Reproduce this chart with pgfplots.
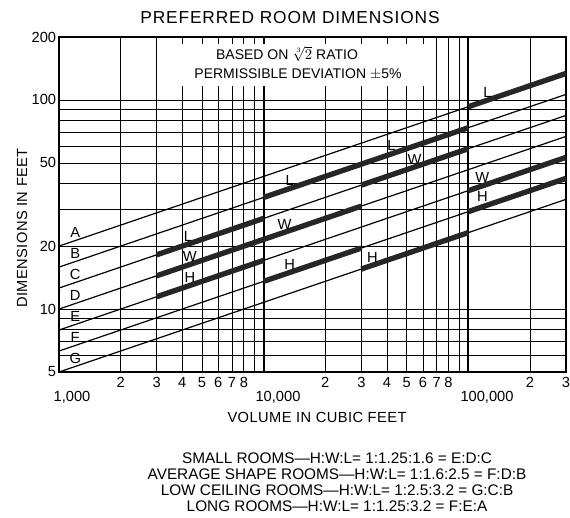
\documentclass[border=0pt]{standalone}
\usepackage{fontspec}
\setmainfont{Liberation Sans}
\usepackage{pgfplots}
\pgfplotsset{compat=1.18}
\newcommand\fs[1]{\fontsize{#1}{#1}\selectfont}
\begin{document}
\begin{tikzpicture}
\path[use as bounding box] (-44.25pt,-108.75pt) rectangle (383.25pt,279pt);
\begin{axis}[
  xmode=log, ymode=log,
  scale only axis, width=380.25pt, height=251.25pt,
  xmin=1000, xmax=300000, ymin=5, ymax=200,
  xtick={1000,2000,3000,4000,5000,6000,7000,8000,9000,10000,20000,30000,40000,50000,60000,70000,80000,90000,100000,200000,300000},
  xticklabels={{},2,3,4,5,6,7,8,{},{},2,3,4,5,6,7,8,{},{},2,3},
  ytick={5,6,7,8,9,10,20,30,40,50,60,70,80,90,100,200},
  yticklabels={5,{},{},{},{},10,20,{},{},50,{},{},{},{},100,200},
  grid=major, major grid style={black, line width=0.55pt},
  major tick length=0pt, minor tick length=0pt,
  axis line style={line width=1pt},
  ticklabel style={font=\fs{11}},
  xticklabel style={inner sep=0pt, yshift=-4pt},
  yticklabel style={inner sep=0pt, xshift=-2pt},
  extra x ticks={10000,100000}, extra x tick labels={},
  extra x tick style={grid=major, major grid style={black, line width=1.4pt}},
]
% base lines A-G
\addplot[black, line width=0.9pt] coordinates {(1000,20) (300000,133.9)};
\addplot[black, line width=0.9pt] coordinates {(1000,15.87) (300000,106.3)};
\addplot[black, line width=0.9pt] coordinates {(1000,12.6) (300000,84.34)};
\addplot[black, line width=0.9pt] coordinates {(1000,10) (300000,66.94)};
\addplot[black, line width=0.9pt] coordinates {(1000,7.937) (300000,53.13)};
\addplot[black, line width=0.9pt] coordinates {(1000,6.3) (300000,42.17)};
\addplot[black, line width=0.9pt] coordinates {(1000,5) (300000,33.47)};
% small rooms E:D:C
\addplot[black!85, line width=4pt] coordinates {(3000,18.17) (10000,27.14)};
\addplot[black!85, line width=4pt] coordinates {(3000,14.42) (10000,21.54)};
\addplot[black!85, line width=4pt] coordinates {(3000,11.45) (10000,17.10)};
% average F:D:B
\addplot[black!85, line width=4pt] coordinates {(10000,34.19) (30000,49.31)};
\addplot[black!85, line width=4pt] coordinates {(10000,21.54) (30000,31.07)};
\addplot[black!85, line width=4pt] coordinates {(10000,13.57) (30000,19.57)};
% low ceiling G:C:B
\addplot[black!85, line width=4pt] coordinates {(30000,49.31) (100000,73.67)};
\addplot[black!85, line width=4pt] coordinates {(30000,39.15) (100000,58.49)};
\addplot[black!85, line width=4pt] coordinates {(30000,15.54) (100000,23.21)};
% long F:E:A
\addplot[black!85, line width=4pt] coordinates {(100000,92.83) (300000,133.9)};
\addplot[black!85, line width=4pt] coordinates {(100000,36.84) (300000,53.13)};
\addplot[black!85, line width=4pt] coordinates {(100000,29.24) (300000,42.17)};
% line letters
\begin{scope}[every node/.style={font=\fs{11}, yshift=6pt, inner sep=0pt}]
\node at (axis cs:1200,21.25) {A};
\node at (axis cs:1200,16.87) {B};
\node at (axis cs:1200,13.39) {C};
\node at (axis cs:1200,10.63) {D};
\node at (axis cs:1200,8.43) {E};
\node at (axis cs:1200,6.70) {F};
\node at (axis cs:1200,5.31) {G};
% room labels
\node at (axis cs:4260,20.43) {L};
\node at (axis cs:4360,16.34) {W};
\node at (axis cs:4360,12.97) {H};
\node at (axis cs:13400,37.69) {L};
\node at (axis cs:12650,23.32) {W};
\node at (axis cs:13400,14.96) {H};
\node at (axis cs:42100,55.21) {L};
\node at (axis cs:54600,47.80) {W};
\node at (axis cs:34000,16.20) {H};
\node at (axis cs:124000,99.73) {L};
\node at (axis cs:117000,38.82) {W};
\node[yshift=2pt] at (axis cs:117000,30.81) {H};
\end{scope}
\end{axis}
\begin{scope}[x=0.75pt,y=-0.75pt,shift={(-59,-372)}]
\fill[white] (165,44) rectangle (428,86);
\node[font=\fs{10.5}] at (287,54) {BASED ON $\sqrt[3]{2}$ RATIO};
\node[font=\fs{10.5}] at (298,74) {PERMISSIBLE DEVIATION $\pm$5\%};
\node[font=\fs{13}\addfontfeature{LetterSpace=5}] at (290,18) {PREFERRED ROOM DIMENSIONS};
\node[font=\fs{11}] at (72,397) {1,000};
\node[font=\fs{11}] at (278,397) {10,000};
\node[font=\fs{11}] at (487,397) {100,000};
\node[font=\fs{11}\addfontfeature{LetterSpace=3}] at (317,417) {VOLUME IN CUBIC FEET};
\node[font=\fs{11}\addfontfeature{LetterSpace=3}, rotate=90] at (22,228) {DIMENSIONS IN FEET};
\node[font=\fs{11.5}] at (337,458) {SMALL ROOMS\textemdash H:W:L= 1:1.25:1.6 = E:D:C};
\node[font=\fs{11.5}] at (337,474) {AVERAGE SHAPE ROOMS\textemdash H:W:L= 1:1.6:2.5 = F:D:B};
\node[font=\fs{11.5}] at (337,490) {LOW CEILING ROOMS\textemdash H:W:L= 1:2.5:3.2 = G:C:B};
\node[font=\fs{11.5}] at (337,506) {LONG ROOMS\textemdash H:W:L= 1:1.25:3.2 = F:E:A};
\end{scope}
\end{tikzpicture}
\end{document}
